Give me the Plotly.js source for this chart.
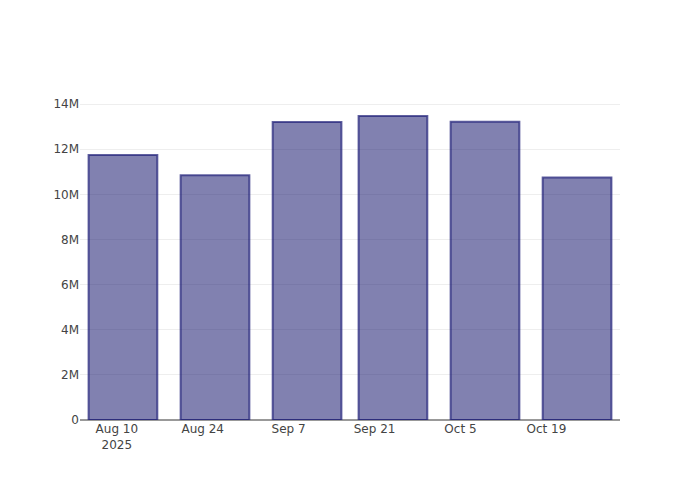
<!DOCTYPE html>
<html>
<head>
<meta charset="utf-8">
<script src="https://cdn.plot.ly/plotly-3.0.1.min.js"></script>
<style>html,body{margin:0;padding:0;background:#fff}</style>
</head>
<body>
<div id="chart" style="width:700px;height:500px"></div>
<script>
const dates = ["2025-08-11", "2025-08-26", "2025-09-10", "2025-09-24", "2025-10-09", "2025-10-24"];
const values = [11740000, 10850000, 13200000, 13470000, 13220000, 10740000];

Plotly.newPlot("chart", [{
  type: "bar",
  x: dates,
  y: values,
  marker: {
    color: "rgba(25,25,112,0.55)",
    line: {color: "rgba(30,30,120,0.7)", width: 2}
  }
}], {
  width: 700,
  height: 500,
  font: {family: "DejaVu Sans", size: 12, color: "#444"},
  paper_bgcolor: "#fff",
  plot_bgcolor: "#fff",
  xaxis: {type: "date", showline: false, showgrid: false},
  yaxis: {gridcolor: "#eee", zeroline: true, zerolinecolor: "#999", zerolinewidth: 2}
}, {displayModeBar: false});
</script>
</body>
</html>
